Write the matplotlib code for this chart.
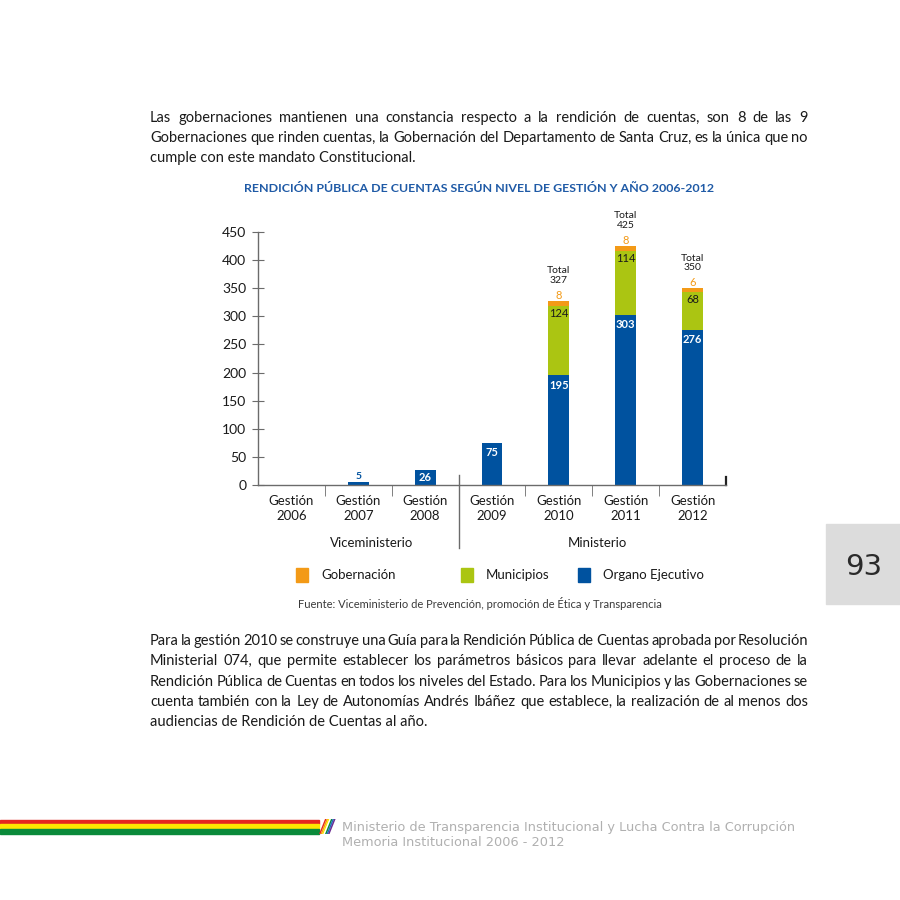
import matplotlib
matplotlib.use("agg")
import matplotlib.pyplot as plt
from matplotlib.patches import Rectangle, Polygon
from matplotlib.lines import Line2D

# ---------------------------------------------------------------------------
# Data
# ---------------------------------------------------------------------------
years = ["2006", "2007", "2008", "2009", "2010", "2011", "2012"]
organo = [0, 5, 26, 75, 195, 303, 276]
municipios = [0, 0, 0, 0, 124, 114, 68]
gobernacion = [0, 0, 0, 0, 8, 8, 6]
series_names = ["Gobernación", "Municipios", "Organo Ejecutivo"]
groups = ["Viceministerio", "Ministerio"]
yticks = [0, 50, 100, 150, 200, 250, 300, 350, 400, 450]

BLUE = "#00529f"
GREEN = "#abc512"
ORANGE = "#f39a17"
AXIS = "#6b6b6b"
TITLE_BLUE = "#1f5aa6"

para_top = [
    "Las gobernaciones mantienen una constancia respecto a la rendición de cuentas, son 8 de las 9",
    "Gobernaciones que rinden cuentas, la Gobernación del Departamento de Santa Cruz, es la única que no",
    "cumple con este mandato Constitucional.",
]
para_bottom = [
    "Para la gestión 2010 se construye una Guía para la Rendición Pública de Cuentas aprobada por Resolución",
    "Ministerial 074, que permite establecer los parámetros básicos para llevar adelante el proceso de la",
    "Rendición Pública de Cuentas en todos los niveles del Estado. Para los Municipios y las Gobernaciones se",
    "cuenta también con la Ley de Autonomías Andrés Ibáñez que establece, la realización de al menos dos",
    "audiencias de Rendición de Cuentas al año.",
]

W = H = 900
fig = plt.figure(figsize=(9, 9), dpi=100)
fig.patch.set_facecolor("white")
renderer = fig.canvas.get_renderer()


def fx(px):
    return px / W


def fy(py):
    return 1 - py / H


def paragraph(lines, x0, x1, y0, step, size=10.5):
    """Draw justified lines (last line left aligned)."""
    for i, line in enumerate(lines):
        y = fy(y0 + i * step)
        words = line.split(" ")
        if i == len(lines) - 1:
            fig.text(fx(x0), y, line, fontsize=size, family="Lato",
                     color="#1a1a1a", va="center")
            continue
        texts = [fig.text(0, y, w, fontsize=size, family="Lato",
                          color="#1a1a1a", va="center") for w in words]
        widths = [t.get_window_extent(renderer).width for t in texts]
        gap = (x1 - x0 - sum(widths)) / (len(words) - 1)
        x = x0
        for t, w in zip(texts, widths):
            t.set_x(fx(x))
            x += w + gap


paragraph(para_top, 150, 808, 118, 20)
paragraph(para_bottom, 150, 808, 641, 20.3)

# title
fig.text(fx(479), fy(189), "RENDICIÓN PÚBLICA DE CUENTAS SEGÚN NIVEL DE GESTIÓN Y AÑO 2006-2012",
         ha="center", va="center", fontsize=8.9, fontweight="bold", family="Lato",
         color=TITLE_BLUE)

# ---------------------------------------------------------------------------
# Chart
# ---------------------------------------------------------------------------
ax = fig.add_axes([fx(258), fy(485), 468 / W, 253 / H])
x = list(range(len(years)))
bw = 0.31
bottom2 = [a + b for a, b in zip(organo, municipios)]
totals = [a + b + c for a, b, c in zip(organo, municipios, gobernacion)]

ax.bar(x, organo, bw, color=BLUE, label=series_names[2])
ax.bar(x, municipios, bw, bottom=organo, color=GREEN, label=series_names[1])
ax.bar(x, gobernacion, bw, bottom=bottom2, color=ORANGE, label=series_names[0])

ax.set_xlim(-0.5, 6.5)
ax.set_ylim(0, 450)
for s in ["top", "right"]:
    ax.spines[s].set_visible(False)
for s in ["left", "bottom"]:
    ax.spines[s].set_color(AXIS)
    ax.spines[s].set_linewidth(1.0)

ax.set_yticks(yticks)
ax.set_yticklabels([str(v) for v in yticks], family="Lato", fontsize=10, color="#1a1a1a")
ax.tick_params(axis="y", direction="inout", length=9, color=AXIS, pad=4)

ax.set_xticks(x)
ax.set_xticklabels([f"Gestión\n{y}" for y in years], family="Lato", fontsize=9.5,
                   color="#1a1a1a", linespacing=1.3)
ax.tick_params(axis="x", which="major", length=0, pad=7)
ax.set_xticks([i + 0.5 for i in x[:-1]], minor=True)
ax.tick_params(axis="x", which="minor", direction="out", length=8, color=AXIS)

# long divider between groups and the end tick
xt = ax.get_xaxis_transform()
ax.add_line(Line2D([2.5, 2.5], [0.04, -0.25], transform=xt, color=AXIS,
                   lw=1.0, clip_on=False))
ax.add_line(Line2D([6.5, 6.5], [0, 0.03], transform=xt, color="#222222",
                   lw=1.6, clip_on=False))

ax.text(1.2, -0.23, groups[0], transform=xt, ha="center", va="center",
        family="Lato", fontsize=9.5, color="#1a1a1a")
ax.text(4.57, -0.23, groups[1], transform=xt, ha="center", va="center",
        family="Lato", fontsize=9.5, color="#1a1a1a")

# value labels
for i in x:
    v = organo[i]
    if v == 0:
        continue
    if v < 15:
        ax.annotate(str(v), (i, v), xytext=(0, 1), textcoords="offset pixels",
                    ha="center", va="bottom", fontsize=7.5, fontweight="bold",
                    family="Lato", color=BLUE)
    elif v < 40:
        ax.annotate(str(v), (i, v / 2), ha="center", va="center", fontsize=8,
                    fontweight="bold", family="Lato", color="white")
    else:
        ax.annotate(str(v), (i, v), xytext=(0, -10), textcoords="offset pixels",
                    ha="center", va="center", fontsize=8, fontweight="bold",
                    family="Lato", color="white")
for i in x:
    if municipios[i]:
        ax.annotate(str(municipios[i]), (i, bottom2[i]), xytext=(0, -8),
                    textcoords="offset pixels", ha="center", va="center",
                    fontsize=8, family="Lato", color="#1a1a1a")
    if gobernacion[i]:
        ax.annotate(str(gobernacion[i]), (i, totals[i]), xytext=(0, 6),
                    textcoords="offset pixels", ha="center", va="center",
                    fontsize=8, family="Lato", color=ORANGE)
        ax.annotate(f"Total\n{totals[i]}", (i, totals[i]), xytext=(0, 16),
                    textcoords="offset pixels", ha="center", va="bottom",
                    fontsize=7.5, family="Lato", color="#1a1a1a", linespacing=1.1)

# legend (manual, spacing is uneven in the original)
legend_items = [(series_names[0], ORANGE, 296), (series_names[1], GREEN, 461),
                (series_names[2], BLUE, 578)]
for name, col, px in legend_items:
    fig.patches.append(Rectangle((fx(px), fy(582)), 12 / W, 14 / H,
                                 transform=fig.transFigure, color=col))
    fig.text(fx(px + 25), fy(575), name, va="center", family="Lato",
             fontsize=9.5, color="#1a1a1a")

fig.text(fx(480), fy(604),
         "Fuente: Viceministerio de Prevención, promoción de Ética y Transparencia",
         ha="center", va="center", family="Lato", fontsize=8, color="#3a3a3a")

# ---------------------------------------------------------------------------
# Page decorations
# ---------------------------------------------------------------------------
fig.patches.append(Rectangle((fx(826), fy(604)), 74 / W, 80 / H,
                             transform=fig.transFigure, color="#dcdcdc"))
fig.text(fx(864), fy(567), "93", ha="center", va="center", fontsize=21,
         family="DejaVu Sans", color="#2a2a2a")

for top, bot, col in [(820, 824, "#e5261f"), (824, 829, "#fde600"), (829, 834, "#0a8a3a")]:
    fig.patches.append(Rectangle((0, fy(bot)), 319 / W, (bot - top) / H,
                                 transform=fig.transFigure, color=col))
wiphala = ["#e5261f", "#f39a17", "#fde600", "#ffffff", "#0a8a3a", "#1e6fc0", "#6a2c91"]
for k, col in enumerate(wiphala):
    x0 = 319 + k * 1.5
    fig.patches.append(Polygon([(fx(x0), fy(834)), (fx(x0 + 1.6), fy(834)),
                                (fx(x0 + 7.6), fy(819)), (fx(x0 + 6), fy(819))],
                               closed=True, transform=fig.transFigure, color=col, lw=0))

fig.text(fx(342), fy(828), "Ministerio de Transparencia Institucional y Lucha Contra la Corrupción",
         va="center", family="DejaVu Sans", fontsize=9.3, color="#b0b0b0")
fig.text(fx(342), fy(843), "Memoria Institucional 2006 - 2012",
         va="center", family="DejaVu Sans", fontsize=9.3, color="#b0b0b0")

fig.savefig("out.png", dpi=100, facecolor="white")
